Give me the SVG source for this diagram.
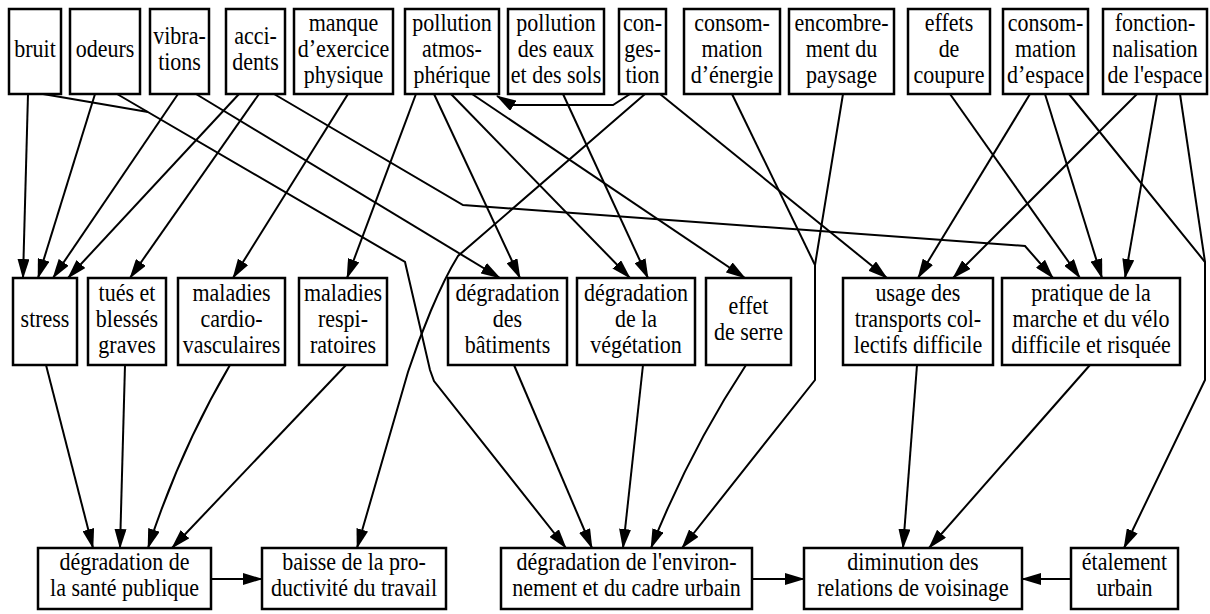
<svg xmlns="http://www.w3.org/2000/svg" width="1210" height="614" viewBox="0 0 1210 614">
<style>
.box{fill:#fff;stroke:#000;stroke-width:2.5}
.edge{fill:none;stroke:#000;stroke-width:2;marker-end:url(#arr)}
.seg{fill:none;stroke:#000;stroke-width:2}
.lbl{font-family:"Liberation Serif","Times New Roman",serif;font-size:22px;text-anchor:middle;fill:#000}
</style>
<defs>
<marker id="arr" markerUnits="userSpaceOnUse" markerWidth="20" markerHeight="12" refX="19" refY="6" orient="auto" viewBox="0 0 20 12"><path d="M0,0 L20,6 L0,12 z" fill="#000"/></marker>
</defs>
<rect width="1210" height="614" fill="#fff"/>
<g id="connectors">
<path class="edge" d="M28,94 L23,278"/>
<path class="seg" d="M43,94 L148,112"/>
<path class="edge" d="M117,94 L405,262 L430,370 L434,381 L566,548"/>
<path class="edge" d="M95,94 L38,278"/>
<path class="edge" d="M178,94 L53,278"/>
<path class="edge" d="M196,94 L500,278"/>
<path class="edge" d="M239,94 L68,278"/>
<path class="edge" d="M259,94 L130,278"/>
<path class="edge" d="M274,94 L463,205 L1025,246 L1053,278"/>
<path class="edge" d="M348,94 L233,278"/>
<path class="edge" d="M416,94 L347,278"/>
<path class="edge" d="M434,94 L520,278"/>
<path class="edge" d="M451,94 L630,278"/>
<path class="edge" d="M472,94 L745,278"/>
<path class="edge" d="M563,94 L648,278"/>
<path class="edge" d="M630,94 L613,105 L512,105 L497,96"/>
<path class="edge" d="M645,94 L458,256 C440,285 420,335 408,372 L357,548"/>
<path class="edge" d="M660,94 L887,278"/>
<path class="seg" d="M732,94 L815,265"/>
<path class="edge" d="M843,94 L815,265 L815,380 L682,548"/>
<path class="edge" d="M950,94 L1080,278"/>
<path class="edge" d="M1030,94 L918,278"/>
<path class="edge" d="M1045,94 L1102,278"/>
<path class="edge" d="M1069,94 L1205,262 L1205,380 L1124,548"/>
<path class="edge" d="M1137,94 L953,278"/>
<path class="edge" d="M1157,94 L1125,278"/>
<path class="seg" d="M1180,94 L1205,262"/>
<path class="edge" d="M46,365 L93,548"/>
<path class="edge" d="M125,365 L120,548"/>
<path class="edge" d="M230,365 Q180,450 148,548"/>
<path class="edge" d="M346,365 L172,548"/>
<path class="edge" d="M514,365 L592,548"/>
<path class="edge" d="M643,365 L623,548"/>
<path class="edge" d="M746,365 Q690,450 651,548"/>
<path class="edge" d="M917,365 L903,548"/>
<path class="edge" d="M1090,365 L929,548"/>
<path class="edge" d="M211,579 L262,579"/>
<path class="edge" d="M752,579 L804,579"/>
<path class="edge" d="M1071,579 L1022,579"/>
</g>
<g id="n_bruit"><rect class="box" x="9" y="9" width="52" height="85"/><text class="lbl" transform="translate(35,57) scale(1,1.15)">bruit</text></g>
<g id="n_odeurs"><rect class="box" x="70" y="9" width="70" height="85"/><text class="lbl" transform="translate(105,57) scale(1,1.15)">odeurs</text></g>
<g id="n_vibrations"><rect class="box" x="150" y="9" width="59" height="85"/><text class="lbl" transform="translate(179.5,44) scale(1,1.15)"><tspan x="0">vibra-</tspan><tspan x="0" dy="22.6">tions</tspan></text></g>
<g id="n_accidents"><rect class="box" x="226" y="9" width="59" height="85"/><text class="lbl" transform="translate(255.5,44) scale(1,1.15)"><tspan x="0">acci-</tspan><tspan x="0" dy="22.6">dents</tspan></text></g>
<g id="n_manque"><rect class="box" x="294" y="9" width="99" height="85"/><text class="lbl" transform="translate(343.5,31) scale(1,1.15)"><tspan x="0">manque</tspan><tspan x="0" dy="22.6">d’exercice</tspan><tspan x="0" dy="22.6">physique</tspan></text></g>
<g id="n_pollution_atmo"><rect class="box" x="405" y="9" width="94" height="85"/><text class="lbl" transform="translate(452,31) scale(1,1.15)"><tspan x="0">pollution</tspan><tspan x="0" dy="22.6">atmos-</tspan><tspan x="0" dy="22.6">phérique</tspan></text></g>
<g id="n_pollution_eaux"><rect class="box" x="508" y="9" width="96" height="85"/><text class="lbl" transform="translate(556,31) scale(1,1.15)"><tspan x="0">pollution</tspan><tspan x="0" dy="22.6">des eaux</tspan><tspan x="0" dy="22.6">et des sols</tspan></text></g>
<g id="n_congestion"><rect class="box" x="619" y="9" width="47" height="85"/><text class="lbl" transform="translate(642.5,31) scale(1,1.15)"><tspan x="0">con-</tspan><tspan x="0" dy="22.6">ges-</tspan><tspan x="0" dy="22.6">tion</tspan></text></g>
<g id="n_energie"><rect class="box" x="684" y="9" width="96" height="85"/><text class="lbl" transform="translate(732,31) scale(1,1.15)"><tspan x="0">consom-</tspan><tspan x="0" dy="22.6">mation</tspan><tspan x="0" dy="22.6">d’énergie</tspan></text></g>
<g id="n_encombrement"><rect class="box" x="789" y="9" width="105" height="85"/><text class="lbl" transform="translate(841.5,31) scale(1,1.15)"><tspan x="0">encombre-</tspan><tspan x="0" dy="22.6">ment du</tspan><tspan x="0" dy="22.6">paysage</tspan></text></g>
<g id="n_coupure"><rect class="box" x="908" y="9" width="82" height="85"/><text class="lbl" transform="translate(949,31) scale(1,1.15)"><tspan x="0">effets</tspan><tspan x="0" dy="22.6">de</tspan><tspan x="0" dy="22.6">coupure</tspan></text></g>
<g id="n_espace"><rect class="box" x="1003" y="9" width="85" height="85"/><text class="lbl" transform="translate(1045.5,31) scale(1,1.15)"><tspan x="0">consom-</tspan><tspan x="0" dy="22.6">mation</tspan><tspan x="0" dy="22.6">d’espace</tspan></text></g>
<g id="n_fonctionnalisation"><rect class="box" x="1103" y="9" width="104" height="85"/><text class="lbl" transform="translate(1155,31) scale(1,1.15)"><tspan x="0">fonction-</tspan><tspan x="0" dy="22.6">nalisation</tspan><tspan x="0" dy="22.6">de l'espace</tspan></text></g>
<g id="n_stress"><rect class="box" x="13" y="278" width="64" height="87"/><text class="lbl" transform="translate(45,327) scale(1,1.15)">stress</text></g>
<g id="n_tues"><rect class="box" x="88" y="278" width="78" height="87"/><text class="lbl" transform="translate(127,301) scale(1,1.15)"><tspan x="0">tués et</tspan><tspan x="0" dy="22.6">blessés</tspan><tspan x="0" dy="22.6">graves</tspan></text></g>
<g id="n_cardio"><rect class="box" x="178" y="278" width="107" height="87"/><text class="lbl" transform="translate(231.5,301) scale(1,1.15)"><tspan x="0">maladies</tspan><tspan x="0" dy="22.6">cardio-</tspan><tspan x="0" dy="22.6">vasculaires</tspan></text></g>
<g id="n_respi"><rect class="box" x="299" y="278" width="88" height="87"/><text class="lbl" transform="translate(343,301) scale(1,1.15)"><tspan x="0">maladies</tspan><tspan x="0" dy="22.6">respi-</tspan><tspan x="0" dy="22.6">ratoires</tspan></text></g>
<g id="n_batiments"><rect class="box" x="448" y="278" width="119" height="87"/><text class="lbl" transform="translate(507.5,301) scale(1,1.15)"><tspan x="0">dégradation</tspan><tspan x="0" dy="22.6">des</tspan><tspan x="0" dy="22.6">bâtiments</tspan></text></g>
<g id="n_vegetation"><rect class="box" x="577" y="278" width="118" height="87"/><text class="lbl" transform="translate(636,301) scale(1,1.15)"><tspan x="0">dégradation</tspan><tspan x="0" dy="22.6">de la</tspan><tspan x="0" dy="22.6">végétation</tspan></text></g>
<g id="n_serre"><rect class="box" x="706" y="278" width="85" height="87"/><text class="lbl" transform="translate(748.5,314) scale(1,1.15)"><tspan x="0">effet</tspan><tspan x="0" dy="22.6">de serre</tspan></text></g>
<g id="n_transports"><rect class="box" x="843" y="278" width="150" height="87"/><text class="lbl" transform="translate(918,301) scale(1,1.15)"><tspan x="0">usage des</tspan><tspan x="0" dy="22.6">transports col-</tspan><tspan x="0" dy="22.6">lectifs difficile</tspan></text></g>
<g id="n_marche"><rect class="box" x="1002" y="278" width="178" height="87"/><text class="lbl" transform="translate(1091,301) scale(1,1.15)"><tspan x="0">pratique de la</tspan><tspan x="0" dy="22.6">marche et du vélo</tspan><tspan x="0" dy="22.6">difficile et risquée</tspan></text></g>
<g id="n_sante"><rect class="box" x="38" y="548" width="173" height="61"/><text class="lbl" transform="translate(124.5,570) scale(1,1.15)"><tspan x="0">dégradation de</tspan><tspan x="0" dy="22.6">la santé publique</tspan></text></g>
<g id="n_productivite"><rect class="box" x="262" y="548" width="184" height="61"/><text class="lbl" transform="translate(354,570) scale(1,1.15)"><tspan x="0">baisse de la pro-</tspan><tspan x="0" dy="22.6">ductivité du travail</tspan></text></g>
<g id="n_environnement"><rect class="box" x="501" y="548" width="251" height="61"/><text class="lbl" transform="translate(626.5,570) scale(1,1.15)"><tspan x="0">dégradation de l'environ-</tspan><tspan x="0" dy="22.6">nement et du cadre urbain</tspan></text></g>
<g id="n_voisinage"><rect class="box" x="804" y="548" width="218" height="61"/><text class="lbl" transform="translate(913,570) scale(1,1.15)"><tspan x="0">diminution des</tspan><tspan x="0" dy="22.6">relations de voisinage</tspan></text></g>
<g id="n_etalement"><rect class="box" x="1071" y="548" width="107" height="61"/><text class="lbl" transform="translate(1124.5,570) scale(1,1.15)"><tspan x="0">étalement</tspan><tspan x="0" dy="22.6">urbain</tspan></text></g>
</svg>
